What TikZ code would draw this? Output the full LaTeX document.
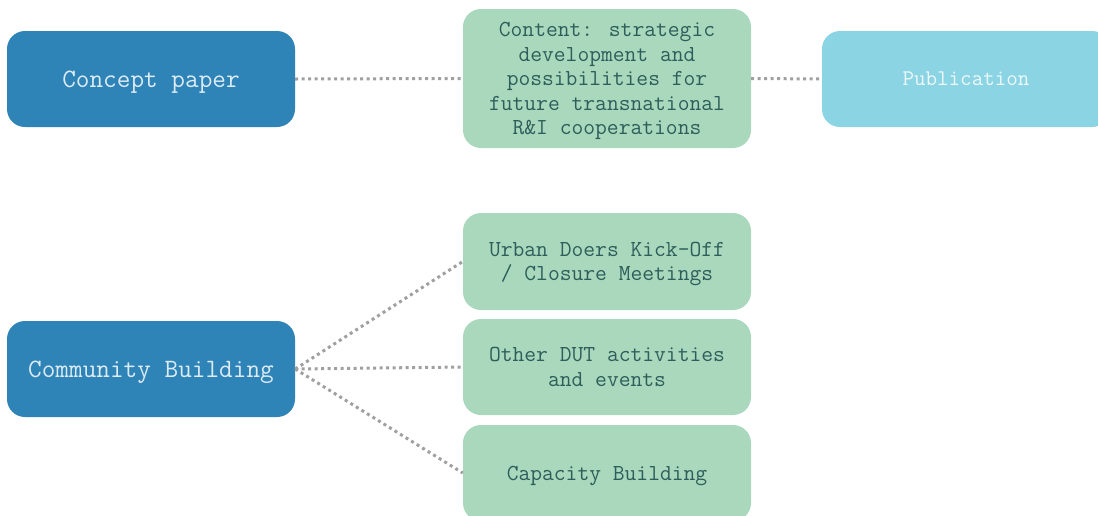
\documentclass[tikz,border=0pt]{standalone}
\definecolor{dblue}{HTML}{2E83B7}
\definecolor{dbluetext}{HTML}{DCEBF4}
\definecolor{lgreen}{HTML}{A9D8BC}
\definecolor{greentext}{HTML}{2E5E5B}
\definecolor{lcyan}{HTML}{8AD4E4}
\definecolor{cyantext}{HTML}{EEF8FB}
\definecolor{dotgray}{HTML}{A0A0A0}
\begin{document}
\begin{tikzpicture}[x=1pt,y=-1pt,
  box/.style={rectangle,rounded corners=18pt,minimum width=288pt,minimum height=96pt,inner sep=0pt,align=center,text depth=0pt},
  bluebox/.style={box,fill=dblue,text=dbluetext,font=\ttfamily\fontsize{26.5}{28}\selectfont},
  greenbox/.style={box,fill=lgreen,text=greentext,font=\ttfamily\fontsize{22.9}{24.4}\selectfont},
  cyanbox/.style={box,fill=lcyan,text=cyantext,font=\ttfamily\fontsize{22.4}{24}\selectfont},
  link/.style={draw=dotgray,line width=3pt,dash pattern=on 3pt off 3.5pt}]
\useasboundingbox (0,0) rectangle (1098,515);
\clip (0,0) rectangle (1098,515);
\fill[white] (0,0) rectangle (1098,515);
\node[bluebox] (concept) at (151,79) {Concept paper};
\node[greenbox,minimum height=139pt] (content) at (607,78.5) {Content: strategic\\development and\\possibilities for\\future transnational\\R\&I cooperations};
\node[cyanbox] (pub) at (966,79) {Publication};
\node[bluebox] (comm) at (151,369) {Community Building};
\node[greenbox,minimum height=97pt] (urban) at (607,261.5) {Urban Doers Kick-Off\\/ Closure Meetings};
\node[greenbox] (other) at (607,367) {Other DUT activities\\and events};
\node[greenbox] (cap) at (607,473) {Capacity Building};
\draw[link] (concept.east) -- (content.west);
\draw[link] (content.east) -- (pub.west);
\draw[link] (comm.east) -- (urban.west);
\draw[link] (comm.east) -- (other.west);
\draw[link] (comm.east) -- (cap.west);
\end{tikzpicture}
\end{document}
